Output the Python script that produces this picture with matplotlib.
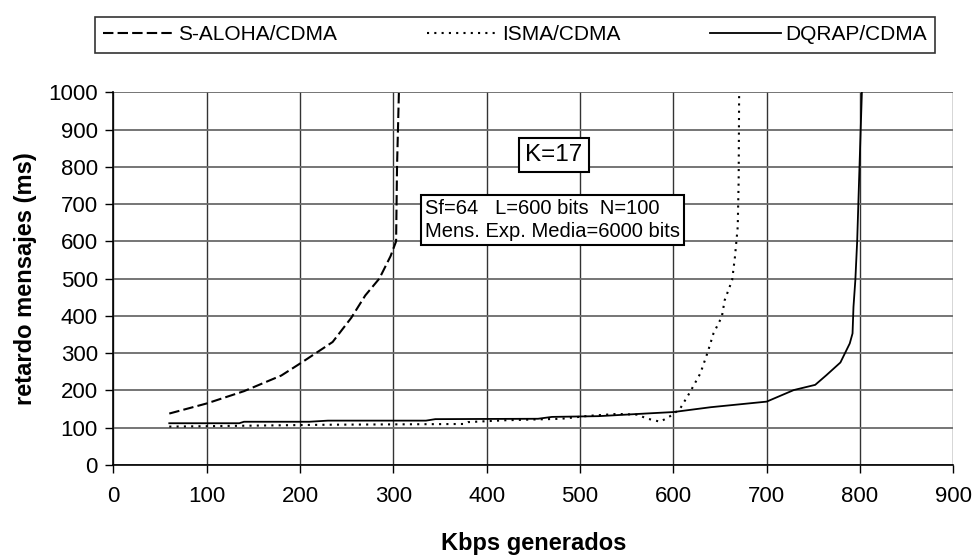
import matplotlib
matplotlib.use("Agg")
import matplotlib.pyplot as plt

plt.rcParams['font.family'] = ['Liberation Sans', 'DejaVu Sans']

# S-ALOHA/CDMA
aloha_x = [60, 100, 140, 180, 200, 220, 235, 255, 270, 285, 297, 303, 304, 306]
aloha_y = [138, 165, 198, 240, 272, 305, 330, 395, 455, 500, 560, 600, 800, 1000]

# ISMA/CDMA
isma_x = [60, 130, 230, 375, 380, 420, 480, 510, 540, 562, 571, 586, 596, 607,
          618, 629, 637, 643, 652, 655, 663, 666, 669, 670, 670.5]
isma_y = [103, 105, 108, 110, 115, 120, 124, 132, 137, 135, 125, 116, 130, 150,
          196, 246, 304, 353, 398, 442, 496, 558, 639, 764, 1000]

# DQRAP/CDMA
dqrap_x = [60, 135, 140, 210, 230, 335, 345, 455, 470, 520, 570, 600, 640, 700,
           729, 752, 764, 779, 789, 792, 793, 795, 797, 799, 802]
dqrap_y = [112, 112, 116, 116, 119, 119, 123, 124, 129, 131, 138, 142, 155, 170,
           201, 215, 241, 275, 326, 353, 424, 496, 603, 764, 1000]

xticks = list(range(0, 1000, 100))
yticks = list(range(0, 1100, 100))

fig = plt.figure(figsize=(9.79, 5.55), dpi=100)
ax = fig.add_axes([0.1157, 0.1622, 0.8581, 0.6715])

l1, = ax.plot(aloha_x, aloha_y, color='black', lw=1.5, linestyle=(0, (5, 2)),
              label='S-ALOHA/CDMA')
l2, = ax.plot(isma_x, isma_y, color='black', lw=1.5, linestyle=(0, (1, 2.5)),
              label='ISMA/CDMA')
l3, = ax.plot(dqrap_x, dqrap_y, color='black', lw=1.3, linestyle='-',
              label='DQRAP/CDMA')

ax.set_xlim(0, 900)
ax.set_ylim(0, 1000)
ax.set_xticks(xticks)
ax.set_yticks(yticks)
ax.tick_params(labelsize=16, direction='out', length=6, width=1, pad=5)
ax.tick_params(axis='x', pad=9)

# rejilla estilo Excel
ax.yaxis.grid(True, color='#6a6a6a', lw=1.3)
ax.xaxis.grid(True, color='#333333', lw=1.0)
ax.set_axisbelow(True)
for s in ['top', 'right']:
    ax.spines[s].set_visible(False)
ax.spines['left'].set_linewidth(1.2)
ax.spines['bottom'].set_linewidth(1.2)

ax.set_xlabel('Kbps generados', fontsize=17, fontweight='bold', labelpad=18)
ax.set_ylabel('retardo mensajes (ms)', fontsize=17, fontweight='bold', labelpad=8)

# cuadros de texto
ax.text(472, 831, 'K=17', fontsize=17.5, ha='center', va='center',
        bbox=dict(boxstyle='square,pad=0.25', fc='white', ec='black', lw=1.5))
ax.text(334, 657, 'Sf=64   L=600 bits  N=100\nMens. Exp. Media=6000 bits',
        fontsize=14.5, ha='left', va='center', linespacing=1.25,
        bbox=dict(boxstyle='square,pad=0.2', fc='white', ec='black', lw=1.5))

leg = fig.legend(handles=[l1, l2, l3], loc='lower left', ncol=3,
                 bbox_to_anchor=(0.097, 0.905, 0.858, 0.075), mode='expand',
                 fontsize=15, frameon=True, fancybox=False, edgecolor='black',
                 handlelength=3.4, handletextpad=0.2, borderaxespad=0)
leg.get_frame().set_linewidth(1.2)

fig.savefig('out.png', dpi=100)
